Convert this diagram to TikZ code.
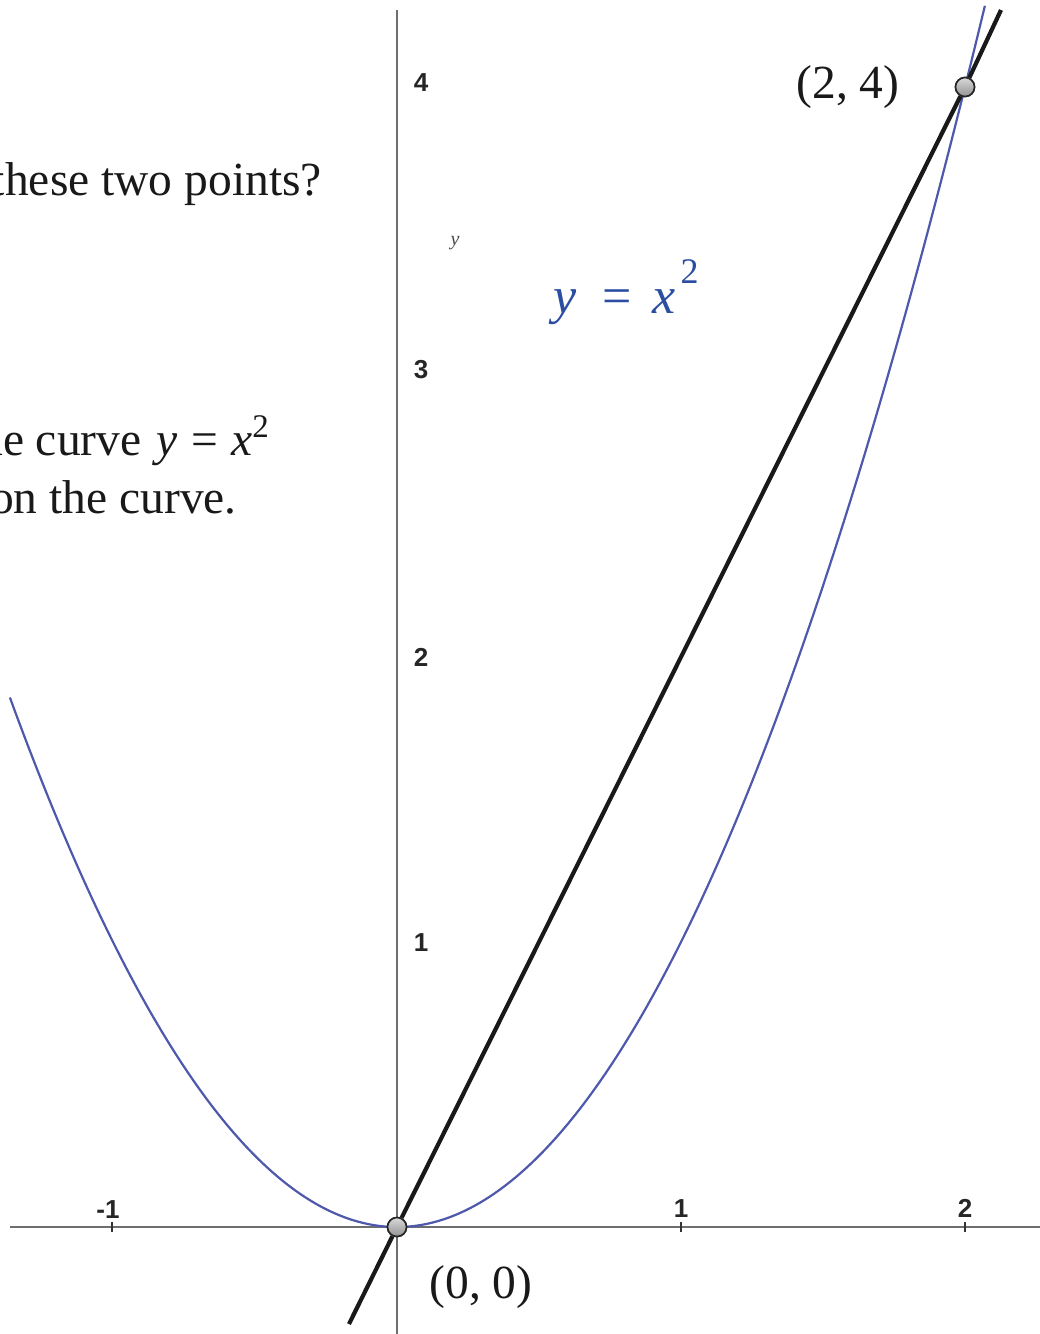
\documentclass[tikz,border=0pt]{standalone}
\usepackage{fontspec}
\setmainfont{Liberation Serif}
\newfontfamily\ticksans{Liberation Sans}
\definecolor{curveblue}{RGB}{78,88,172}
\definecolor{labelblue}{RGB}{44,78,162}
\definecolor{axisgray}{RGB}{110,110,110}
\begin{document}
\begin{tikzpicture}[x=1pt,y=-1pt,
  axis/.style={draw=axisgray,line width=2.2pt},
  tickmark/.style={draw=black!80,line width=2.4pt},
  ticklabel/.style={font=\ticksans\bfseries\fontsize{26}{27}\selectfont,text=black!85,inner sep=0pt},
  bodytext/.style={font=\fontsize{47.5}{50}\selectfont,text=black!90,inner sep=0pt,anchor=base east},
  ptlabel/.style={font=\fontsize{47.5}{50}\selectfont,text=black!90,inner sep=0pt},
  curve/.style={draw=curveblue,line width=2.2pt},
  secant/.style={draw=black!90,line width=4.2pt},
  ptdot/.style={circle,minimum size=19pt,inner sep=0pt,draw=black!85,line width=1.6pt,top color=gray!30,bottom color=gray!85}
]
\useasboundingbox (0,0) rectangle (1040,1334);
\clip (0,0) rectangle (1040,1334);
\fill[white] (0,0) rectangle (1040,1334);

% axes
\coordinate (yaxtop) at (397,10);
\coordinate (yaxbot) at (397,1334);
\coordinate (xaxl) at (10,1227);
\coordinate (xaxr) at (1040,1227);
\draw[axis] (yaxtop) -- (yaxbot);
\draw[axis] (xaxl) -- (xaxr);

% ticks
\foreach \t/\n in {112/m1,681/p1,965/p2}{
  \coordinate (tk\n a) at (\t,1222);
  \coordinate (tk\n b) at (\t,1232);
  \draw[tickmark] (tk\n a) -- (tk\n b);
}

% tick labels
\node[ticklabel] (xm1) at (108,1210) {-1};
\node[ticklabel] (xp1) at (681,1209) {1};
\node[ticklabel] (xp2) at (965,1208) {2};
\node[ticklabel] (y1) at (421,943) {1};
\node[ticklabel] (y2) at (421,657) {2};
\node[ticklabel] (y3) at (421,370) {3};
\node[ticklabel] (y4) at (421,83) {4};
\node[font=\fontsize{20}{21}\selectfont\itshape,text=black!70,inner sep=0pt] (ylab) at (455,243) {y};

% parabola
\draw[curve] plot[domain=-1.363:2.07,samples=160,smooth] ({397+284*\x},{1227-285*\x*\x});

% blue label
\node[font=\fontsize{52}{54}\selectfont,text=labelblue,inner sep=0pt,anchor=base west] (eqlab) at (553,313)
  {\textit{y}\hspace{26pt}=\hspace{21pt}\textit{x}\hspace{5pt}\raisebox{30pt}{\fontsize{36}{37}\selectfont 2}};

% points and secant line
\node[ptdot] (O) at (397,1227) {};
\node[ptdot] (P) at (965,87) {};
\coordinate (lb) at (349,1324);
\coordinate (lt) at (1001,10);
\draw[secant] (lb) -- (O) -- (P) -- (lt);
\node[ptdot] (O2) at (397,1227) {};
\node[ptdot] (P2) at (965,87) {};

% point labels
\node[ptlabel] (Olab) at (481,1287) {(0, 0)};
\node[ptlabel] (Plab) at (848,87) {(2, 4)};

% left text fragments (cut at the left edge, as in the reference)
\node[bodytext] (t1) at (322,195) {these two points?};
\node[bodytext] (t2) at (269,455) {the curve\hspace{3pt} \textit{y}\hspace{14pt}=\hspace{13pt}\textit{x}\raisebox{18pt}{\fontsize{33}{34}\selectfont 2}};
\node[bodytext] (t3) at (237,513) {on the curve.};
\end{tikzpicture}
\end{document}
